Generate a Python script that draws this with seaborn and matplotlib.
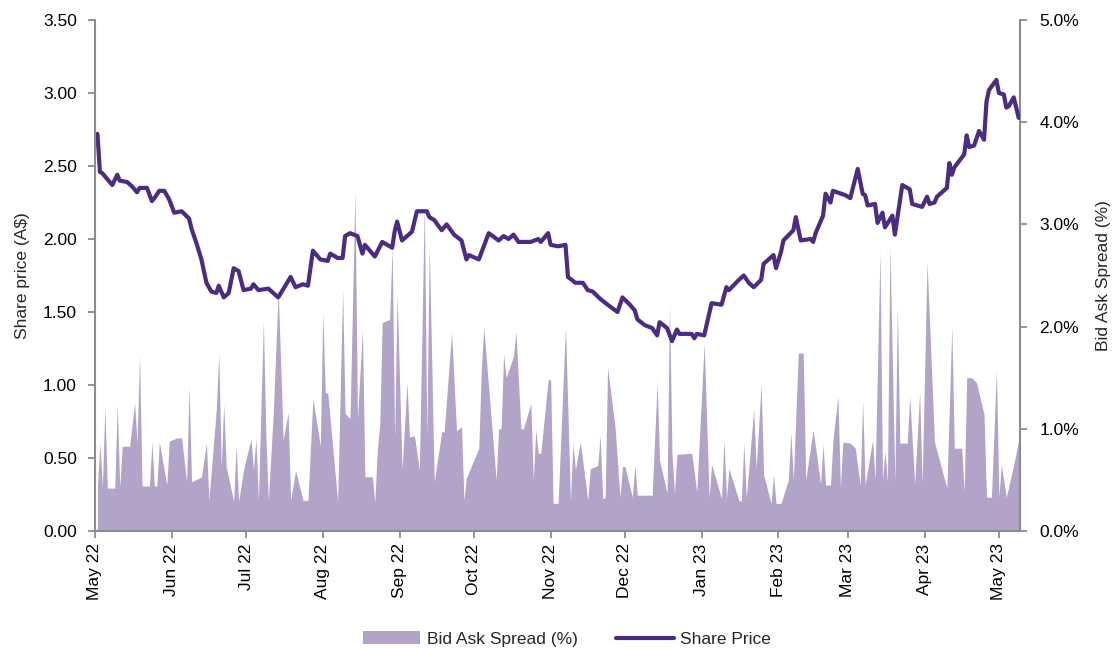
#!/usr/bin/env python3
"""
Share price vs bid ask spread - dual axis chart, saved to out.png.
"""

import numpy as np
import pandas as pd
import matplotlib
matplotlib.use('Agg')
import matplotlib.pyplot as plt
import matplotlib.dates as mdates
from matplotlib.ticker import FuncFormatter
from matplotlib.patches import Patch
from matplotlib.lines import Line2D
import seaborn as sns

# ---- data ----
price_dates = [
    "2022-05-02", "2022-05-03", "2022-05-04", "2022-05-08", "2022-05-10", "2022-05-11",
    "2022-05-14", "2022-05-16", "2022-05-18", "2022-05-19", "2022-05-22", "2022-05-24",
    "2022-05-25", "2022-05-27", "2022-05-29", "2022-05-31", "2022-06-02", "2022-06-05",
    "2022-06-08", "2022-06-09", "2022-06-11", "2022-06-13", "2022-06-15", "2022-06-17",
    "2022-06-19", "2022-06-20", "2022-06-22", "2022-06-24", "2022-06-26", "2022-06-28",
    "2022-06-30", "2022-07-03", "2022-07-04", "2022-07-06", "2022-07-10", "2022-07-14",
    "2022-07-19", "2022-07-21", "2022-07-24", "2022-07-26", "2022-07-28", "2022-07-31",
    "2022-08-03", "2022-08-04", "2022-08-07", "2022-08-09", "2022-08-10", "2022-08-12",
    "2022-08-15", "2022-08-17", "2022-08-18", "2022-08-22", "2022-08-25", "2022-08-29",
    "2022-08-30", "2022-08-31", "2022-09-02", "2022-09-06", "2022-09-08", "2022-09-12",
    "2022-09-13", "2022-09-15", "2022-09-18", "2022-09-20", "2022-09-23", "2022-09-26",
    "2022-09-28", "2022-09-29", "2022-10-03", "2022-10-05", "2022-10-07", "2022-10-11",
    "2022-10-13", "2022-10-15", "2022-10-17", "2022-10-19", "2022-10-24", "2022-10-27",
    "2022-10-28", "2022-10-31", "2022-11-01", "2022-11-04", "2022-11-07", "2022-11-08",
    "2022-11-11", "2022-11-14", "2022-11-16", "2022-11-18", "2022-11-21", "2022-11-24",
    "2022-11-28", "2022-11-30", "2022-12-03", "2022-12-05", "2022-12-06", "2022-12-09",
    "2022-12-12", "2022-12-14", "2022-12-15", "2022-12-18", "2022-12-20", "2022-12-22",
    "2022-12-23", "2022-12-28", "2022-12-29", "2022-12-30", "2023-01-02", "2023-01-05",
    "2023-01-09", "2023-01-11", "2023-01-12", "2023-01-16", "2023-01-18", "2023-01-20",
    "2023-01-22", "2023-01-25", "2023-01-26", "2023-01-30", "2023-01-31", "2023-02-02",
    "2023-02-03", "2023-02-07", "2023-02-08", "2023-02-10", "2023-02-14", "2023-02-15",
    "2023-02-16", "2023-02-19", "2023-02-20", "2023-02-22", "2023-02-23", "2023-02-28",
    "2023-03-02", "2023-03-05", "2023-03-07", "2023-03-08", "2023-03-09", "2023-03-12",
    "2023-03-13", "2023-03-15", "2023-03-16", "2023-03-19", "2023-03-20", "2023-03-23",
    "2023-03-26", "2023-03-27", "2023-03-31", "2023-04-02", "2023-04-03", "2023-04-05",
    "2023-04-06", "2023-04-10", "2023-04-11", "2023-04-12", "2023-04-13", "2023-04-17",
    "2023-04-18", "2023-04-19", "2023-04-21", "2023-04-23", "2023-04-25", "2023-04-26",
    "2023-04-27", "2023-04-30", "2023-05-01", "2023-05-03", "2023-05-04", "2023-05-05",
    "2023-05-07", "2023-05-09",
]
share_price = [
    2.72, 2.46, 2.45, 2.37, 2.44, 2.40,
    2.39, 2.36, 2.32, 2.35, 2.35, 2.26,
    2.28, 2.33, 2.33, 2.27, 2.18, 2.19,
    2.14, 2.07, 1.97, 1.86, 1.70, 1.64,
    1.63, 1.68, 1.60, 1.63, 1.80, 1.78,
    1.65, 1.66, 1.69, 1.65, 1.66, 1.60,
    1.74, 1.67, 1.69, 1.68, 1.92, 1.86,
    1.85, 1.90, 1.87, 1.87, 2.02, 2.04,
    2.02, 1.90, 1.96, 1.88, 1.98, 1.94,
    2.05, 2.12, 1.99, 2.05, 2.19, 2.19,
    2.15, 2.13, 2.06, 2.10, 2.03, 1.99,
    1.86, 1.89, 1.86, 1.95, 2.04, 1.99,
    2.02, 2.00, 2.03, 1.98, 1.98, 2.00,
    1.98, 2.04, 1.96, 1.95, 1.96, 1.74,
    1.70, 1.70, 1.65, 1.64, 1.59, 1.55,
    1.50, 1.60, 1.55, 1.51, 1.45, 1.41,
    1.39, 1.34, 1.43, 1.39, 1.30, 1.38,
    1.35, 1.35, 1.32, 1.35, 1.34, 1.56,
    1.55, 1.67, 1.65, 1.72, 1.75, 1.70,
    1.67, 1.72, 1.83, 1.89, 1.80, 1.91,
    1.99, 2.06, 2.15, 1.99, 2.00, 1.98,
    2.04, 2.16, 2.31, 2.25, 2.33, 2.30,
    2.28, 2.48, 2.31, 2.30, 2.23, 2.24,
    2.11, 2.18, 2.08, 2.16, 2.03, 2.37,
    2.34, 2.24, 2.22, 2.29, 2.24, 2.25,
    2.29, 2.35, 2.52, 2.44, 2.49, 2.58,
    2.71, 2.63, 2.64, 2.74, 2.68, 2.94,
    3.02, 3.09, 3.00, 2.99, 2.90, 2.91,
    2.97, 2.83,
]

spread_dates = [
    "2022-05-02", "2022-05-03", "2022-05-04", "2022-05-05", "2022-05-06", "2022-05-09",
    "2022-05-10", "2022-05-11", "2022-05-12", "2022-05-15", "2022-05-17", "2022-05-18",
    "2022-05-19", "2022-05-20", "2022-05-23", "2022-05-24", "2022-05-25", "2022-05-26",
    "2022-05-27", "2022-05-30", "2022-05-31", "2022-06-03", "2022-06-05", "2022-06-07",
    "2022-06-08", "2022-06-09", "2022-06-13", "2022-06-15", "2022-06-16", "2022-06-19",
    "2022-06-20", "2022-06-21", "2022-06-22", "2022-06-23", "2022-06-26", "2022-06-27",
    "2022-06-28", "2022-06-30", "2022-07-03", "2022-07-04", "2022-07-05", "2022-07-06",
    "2022-07-08", "2022-07-09", "2022-07-10", "2022-07-12", "2022-07-14", "2022-07-16",
    "2022-07-18", "2022-07-19", "2022-07-21", "2022-07-24", "2022-07-26", "2022-07-28",
    "2022-07-31", "2022-08-01", "2022-08-02", "2022-08-03", "2022-08-07", "2022-08-09",
    "2022-08-10", "2022-08-12", "2022-08-14", "2022-08-15", "2022-08-17", "2022-08-18",
    "2022-08-21", "2022-08-22", "2022-08-23", "2022-08-24", "2022-08-25", "2022-08-28",
    "2022-08-29", "2022-08-30", "2022-08-31", "2022-09-02", "2022-09-04", "2022-09-05",
    "2022-09-07", "2022-09-09", "2022-09-11", "2022-09-12", "2022-09-13", "2022-09-15",
    "2022-09-18", "2022-09-19", "2022-09-22", "2022-09-24", "2022-09-26", "2022-09-27",
    "2022-09-28", "2022-10-03", "2022-10-04", "2022-10-05", "2022-10-10", "2022-10-11",
    "2022-10-12", "2022-10-13", "2022-10-14", "2022-10-17", "2022-10-18", "2022-10-20",
    "2022-10-21", "2022-10-24", "2022-10-25", "2022-10-26", "2022-10-27", "2022-10-28",
    "2022-10-31", "2022-11-01", "2022-11-02", "2022-11-04", "2022-11-07", "2022-11-09",
    "2022-11-10", "2022-11-11", "2022-11-13", "2022-11-16", "2022-11-17", "2022-11-20",
    "2022-11-21", "2022-11-22", "2022-11-23", "2022-11-24", "2022-11-27", "2022-11-29",
    "2022-11-30", "2022-12-01", "2022-12-04", "2022-12-05", "2022-12-06", "2022-12-12",
    "2022-12-14", "2022-12-15", "2022-12-18", "2022-12-19", "2022-12-20", "2022-12-21",
    "2022-12-22", "2022-12-28", "2022-12-30", "2023-01-02", "2023-01-04", "2023-01-05",
    "2023-01-09", "2023-01-10", "2023-01-11", "2023-01-12", "2023-01-16", "2023-01-17",
    "2023-01-18", "2023-01-19", "2023-01-22", "2023-01-23", "2023-01-25", "2023-01-26",
    "2023-01-29", "2023-01-30", "2023-01-31", "2023-02-02", "2023-02-05", "2023-02-06",
    "2023-02-07", "2023-02-09", "2023-02-11", "2023-02-12", "2023-02-15", "2023-02-18",
    "2023-02-19", "2023-02-20", "2023-02-22", "2023-02-23", "2023-02-25", "2023-02-26",
    "2023-02-27", "2023-03-02", "2023-03-04", "2023-03-06", "2023-03-07", "2023-03-08",
    "2023-03-11", "2023-03-12", "2023-03-14", "2023-03-15", "2023-03-16", "2023-03-17",
    "2023-03-18", "2023-03-20", "2023-03-21", "2023-03-22", "2023-03-25", "2023-03-26",
    "2023-03-28", "2023-03-30", "2023-03-31", "2023-04-02", "2023-04-05", "2023-04-10",
    "2023-04-12", "2023-04-13", "2023-04-16", "2023-04-17", "2023-04-18", "2023-04-20",
    "2023-04-22", "2023-04-25", "2023-04-26", "2023-04-28", "2023-04-30", "2023-05-01",
    "2023-05-02", "2023-05-04", "2023-05-07", "2023-05-09",
]
bid_ask_spread = [
    0.43, 0.86, 0.43, 1.21, 0.42, 0.42,
    1.24, 0.43, 0.83, 0.83, 1.25, 0.86,
    1.72, 0.44, 0.44, 0.87, 0.44, 0.44,
    0.87, 0.45, 0.88, 0.91, 0.91, 0.48,
    1.41, 0.48, 0.53, 0.86, 0.30, 1.19,
    1.74, 0.63, 1.24, 0.63, 0.29, 0.84,
    0.29, 0.60, 0.90, 0.60, 0.91, 0.30,
    2.05, 0.95, 0.30, 1.15, 2.35, 0.89,
    1.16, 0.30, 0.59, 0.30, 0.30, 1.30,
    0.83, 2.14, 1.35, 1.35, 0.29, 2.36,
    1.15, 1.10, 3.33, 1.10, 1.97, 0.53,
    0.53, 0.28, 0.79, 1.04, 2.04, 2.07,
    2.79, 0.90, 2.33, 0.60, 1.45, 0.92,
    0.93, 0.60, 3.20, 0.93, 2.79, 0.48,
    0.97, 0.97, 1.94, 0.98, 1.02, 0.30,
    0.52, 0.81, 1.58, 1.99, 0.50, 1.00,
    1.00, 1.73, 1.50, 1.71, 1.95, 1.00,
    1.00, 1.25, 0.50, 0.99, 0.76, 0.76,
    1.48, 1.48, 0.27, 0.27, 2.00, 0.30,
    0.86, 0.60, 0.87, 0.30, 0.61, 0.64,
    0.94, 0.32, 0.32, 1.60, 1.02, 0.33,
    0.63, 0.63, 0.33, 0.65, 0.35, 0.35,
    1.45, 0.69, 0.37, 2.22, 0.76, 0.37,
    0.75, 0.76, 0.38, 1.84, 0.33, 0.65,
    0.32, 0.89, 0.32, 0.61, 0.30, 0.29,
    0.86, 0.32, 1.19, 0.61, 1.43, 0.55,
    0.27, 0.55, 0.27, 0.27, 0.50, 0.96,
    0.50, 1.74, 1.74, 0.50, 0.99, 0.46,
    0.85, 0.45, 0.45, 0.89, 1.32, 0.43,
    0.87, 0.86, 0.81, 0.45, 1.27, 0.45,
    0.89, 0.50, 2.74, 0.50, 0.78, 0.48,
    2.80, 0.48, 2.19, 0.86, 0.86, 1.32,
    0.46, 1.35, 0.46, 2.63, 0.87, 0.42,
    2.00, 0.81, 0.81, 0.38, 1.50, 1.50,
    1.45, 1.14, 0.33, 0.33, 1.58, 0.33,
    0.65, 0.33, 0.65, 0.89,
]

LINE_COLOR = '#4B2C82'
AREA_COLOR = '#B2A3C9'
SPINE_COLOR = '#8C8C8C'


def main():
    price = pd.DataFrame({'date': pd.to_datetime(price_dates), 'price': share_price})
    spread = pd.DataFrame({'date': pd.to_datetime(spread_dates), 'spread': bid_ask_spread})

    sns.set_theme(style='white')
    plt.rcParams['font.family'] = ['Liberation Sans', 'DejaVu Sans']

    fig = plt.figure(figsize=(11.12, 6.48), dpi=100)
    ax = fig.add_axes([0.0854, 0.1806, 0.8318, 0.7885])
    ax2 = ax.twinx()

    # spread area on the right axis, price line on top
    ax2.fill_between(spread['date'], spread['spread'], 0, color=AREA_COLOR, linewidth=0)
    sns.lineplot(data=price, x='date', y='price', ax=ax, color=LINE_COLOR, linewidth=3.0)
    ax.set_zorder(ax2.get_zorder() + 1)
    ax.patch.set_visible(False)

    xmin, xmax = pd.Timestamp('2022-05-01'), pd.Timestamp('2023-05-09 12:00')
    ax.set_xlim(xmin, xmax)
    ax.set_ylim(0, 3.5)
    ax.set_yticks(np.arange(0, 3.51, 0.5))
    ax.yaxis.set_major_formatter(FuncFormatter(lambda v, p: f'{v:.2f}'))
    ax2.set_ylim(0, 5.0)
    ax2.set_yticks(np.arange(0, 5.01, 1.0))
    ax2.yaxis.set_major_formatter(FuncFormatter(lambda v, p: f'{v:.1f}%'))

    ax.xaxis.set_major_locator(mdates.MonthLocator())
    ax.xaxis.set_major_formatter(mdates.DateFormatter('%b %y'))

    ax.set_xlabel('')
    ax.set_ylabel('Share price (A$)', fontsize=12.5, labelpad=9)
    ax2.set_ylabel('Bid Ask Spread (%)', fontsize=12.5, labelpad=12)

    for a in (ax, ax2):
        a.grid(False)
        a.spines['top'].set_visible(False)
        for s in a.spines.values():
            s.set_color(SPINE_COLOR)
            s.set_linewidth(1.5)
        a.tick_params(axis='both', direction='out', length=5, width=1.3,
                      color=SPINE_COLOR, labelsize=12.5, labelcolor='black')
    ax.spines['right'].set_visible(False)
    ax2.spines['left'].set_visible(False)
    ax2.spines['bottom'].set_visible(False)
    ax.tick_params(axis='y', left=True, right=False, pad=8)
    ax.tick_params(axis='x', bottom=True, pad=4, labelrotation=90)
    ax2.tick_params(axis='y', right=True, left=False, pad=9)

    handles = [Patch(facecolor=AREA_COLOR, edgecolor='none', label='Bid Ask Spread (%)'),
               Line2D([0], [0], color=LINE_COLOR, linewidth=3.0, label='Share Price')]
    fig.legend(handles=handles, loc='lower center', bbox_to_anchor=(0.51, -0.022),
               ncol=2, frameon=False, fontsize=12.5, handlelength=3.3,
               columnspacing=2.2, handletextpad=0.4)

    fig.savefig('out.png', dpi=100)
    plt.close(fig)


if __name__ == "__main__":
    main()
